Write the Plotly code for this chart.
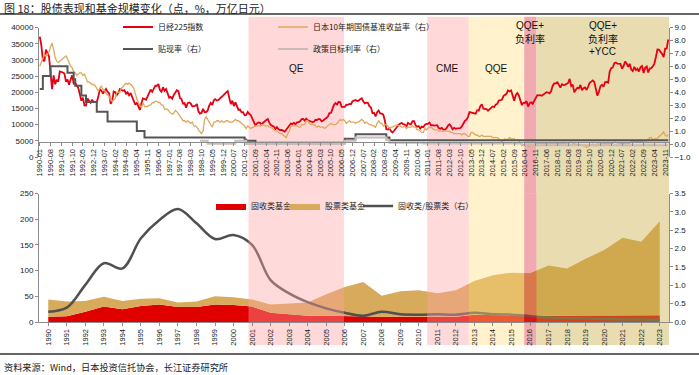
import plotly.graph_objects as go

W, H = 699, 375
def px_x(x): return x / W
def px_y(y): return 1 - y / H

NUM = "Liberation Sans, Arial, Noto Sans CJK SC, sans-serif"
CJK = "Noto Sans CJK SC, Liberation Sans, sans-serif"

# ---------------- top chart data (monthly, 1990-01 .. 2024-01) ----------------
months = [f"{y}-{m:02d}" for y in range(1990, 2025) for m in range(1, 13)][:409]

nikkei = [
    37189, 34591, 29980, 29584, 33131, 31940, 31036, 25978, 20983, 25194, 22454, 23848,
    23293, 26409, 26292, 26111, 25790, 23291, 23900, 22335, 23916, 25222, 22687, 22983,
    22023, 21338, 19345, 17390, 18347, 15951, 15910, 18061, 17399, 16767, 17683, 16924,
    17023, 16953, 18591, 20919, 20552, 19590, 20380, 21027, 20105, 19703, 16407, 17417,
    20229, 19997, 19111, 19725, 20974, 20643, 20462, 20628, 19563, 19989, 19076, 19723,
    18650, 17053, 16140, 16807, 15437, 14517, 16678, 18117, 17913, 17655, 18744, 19868,
    20813, 20125, 21407, 22041, 21956, 22531, 20693, 20167, 21556, 20466, 21020, 19361,
    18330, 18557, 18003, 19151, 20069, 20605, 20331, 18229, 17888, 16459, 16632, 15259,
    16628, 16831, 16527, 15641, 15671, 15830, 16379, 14108, 13406, 13564, 14883, 13842,
    13859, 14367, 15837, 16701, 16112, 17530, 17862, 17437, 17605, 17942, 18558, 18934,
    19540, 19960, 20337, 17974, 16332, 17411, 15727, 16861, 15747, 14539, 14649, 13785,
    13843, 12883, 12999, 13934, 13262, 12969, 11860, 10713, 9775, 10366, 10697, 10543,
    9997, 10588, 11024, 11492, 11764, 10621, 9877, 9619, 9383, 8640, 9216, 8579,
    8340, 8363, 7973, 7831, 8425, 9083, 9563, 10344, 10219, 10560, 10101, 10677,
    10784, 11042, 11715, 11762, 11236, 11858, 11326, 11082, 10824, 10771, 10899, 11489,
    11388, 11741, 11668, 11009, 11277, 11584, 11900, 12414, 13574, 13607, 14872, 16111,
    16650, 16205, 17060, 16906, 15467, 15505, 15457, 16141, 16128, 16399, 16274, 17226,
    17383, 17604, 17288, 17400, 17876, 18138, 17249, 16569, 16786, 16738, 15681, 15308,
    13592, 13603, 12526, 13850, 14339, 13481, 13377, 13073, 11260, 8577, 8512, 8860,
    7994, 7568, 8110, 8828, 9523, 9958, 10357, 10493, 10133, 10035, 9345, 10546,
    10198, 10126, 11090, 11057, 9769, 9383, 9537, 8824, 9369, 9202, 9937, 10229,
    10238, 10624, 9755, 9850, 9694, 9816, 9833, 8955, 8700, 8988, 8435, 8455,
    8803, 9723, 10084, 9521, 8543, 9007, 8695, 8840, 8870, 8928, 9446, 10395,
    11139, 11559, 12398, 13861, 13775, 13677, 13668, 13389, 14456, 14328, 15662, 16291,
    14915, 14841, 14828, 14304, 14632, 15162, 15621, 15425, 16174, 16414, 17460, 17451,
    17674, 18798, 19207, 19520, 20563, 20236, 20585, 18890, 17388, 19083, 19747, 19034,
    17518, 16027, 16759, 16666, 17235, 15576, 16569, 16887, 16450, 17425, 18308, 19114,
    19041, 19119, 18909, 19197, 19651, 20033, 19925, 19646, 20356, 22012, 22725, 22765,
    23098, 22068, 21454, 22468, 22202, 22305, 22554, 22865, 24120, 21920, 22351, 20015,
    20773, 21385, 21206, 22259, 20601, 21276, 21522, 20704, 21756, 22927, 23294, 23657,
    23205, 21143, 18917, 20194, 21878, 22288, 21710, 23140, 23185, 22977, 26434, 27444,
    27663, 28966, 29179, 28813, 28860, 28792, 27284, 28090, 29453, 28893, 27822, 28792,
    27002, 26527, 27821, 26848, 27280, 26393, 27802, 28092, 25937, 27587, 27969, 26095,
    27327, 27446, 28041, 28856, 30888, 33189, 33172, 32619, 31858, 30859, 33487, 33464,
    36287,
]

jgb10y = [
    6.0, 6.3, 6.7, 6.9, 6.8, 7.0, 7.1, 7.5, 7.8, 7.3, 6.7, 6.4,
    6.3, 6.4, 6.5, 6.6, 6.7, 6.8, 6.6, 6.2, 6.0, 5.9, 5.6, 5.5,
    5.3, 5.4, 5.5, 5.5, 5.3, 5.4, 5.1, 4.8, 4.8, 4.7, 4.6, 4.6,
    4.5, 4.3, 4.1, 4.3, 4.5, 4.2, 4.2, 3.9, 3.8, 3.7, 3.4, 3.3,
    3.4, 3.5, 4.0, 4.0, 4.0, 4.3, 4.4, 4.6, 4.7, 4.6, 4.7, 4.6,
    4.5, 4.3, 3.8, 3.5, 3.2, 3.0, 2.8, 3.2, 2.9, 2.9, 2.9, 3.0,
    3.0, 3.2, 3.2, 3.3, 3.3, 3.2, 3.2, 3.0, 3.0, 2.7, 2.7, 2.7,
    2.5, 2.4, 2.3, 2.4, 2.6, 2.5, 2.3, 2.1, 2.0, 1.8, 1.8, 1.7,
    1.8, 1.7, 1.6, 1.7, 1.4, 1.4, 1.3, 1.1, 0.9, 0.8, 1.0, 1.9,
    2.1, 1.9, 1.7, 1.5, 1.3, 1.7, 1.7, 1.8, 1.8, 1.7, 1.8, 1.7,
    1.7, 1.8, 1.8, 1.7, 1.7, 1.7, 1.8, 1.9, 1.8, 1.8, 1.7, 1.6,
    1.5, 1.4, 1.2, 1.4, 1.3, 1.2, 1.3, 1.3, 1.4, 1.4, 1.4, 1.4,
    1.5, 1.5, 1.4, 1.4, 1.4, 1.3, 1.3, 1.2, 1.1, 1.0, 1.0, 0.9,
    0.8, 0.8, 0.7, 0.6, 0.5, 0.8, 1.0, 1.4, 1.4, 1.4, 1.4, 1.4,
    1.3, 1.3, 1.5, 1.5, 1.5, 1.8, 1.8, 1.6, 1.5, 1.5, 1.5, 1.4,
    1.3, 1.4, 1.3, 1.3, 1.3, 1.2, 1.3, 1.4, 1.5, 1.6, 1.5, 1.5,
    1.5, 1.6, 1.8, 1.9, 1.8, 1.9, 1.8, 1.6, 1.7, 1.8, 1.7, 1.7,
    1.7, 1.6, 1.7, 1.7, 1.8, 1.9, 1.8, 1.6, 1.7, 1.6, 1.5, 1.5,
    1.4, 1.4, 1.3, 1.6, 1.8, 1.6, 1.6, 1.4, 1.5, 1.5, 1.4, 1.2,
    1.3, 1.3, 1.4, 1.4, 1.5, 1.4, 1.4, 1.3, 1.3, 1.4, 1.2, 1.3,
    1.3, 1.3, 1.4, 1.3, 1.3, 1.1, 1.1, 1.0, 0.9, 0.9, 1.2, 1.1,
    1.2, 1.3, 1.3, 1.2, 1.1, 1.1, 1.1, 1.0, 1.0, 1.0, 1.0, 1.0,
    1.0, 1.0, 1.0, 0.9, 0.9, 0.8, 0.8, 0.8, 0.8, 0.8, 0.7, 0.8,
    0.8, 0.7, 0.6, 0.6, 0.9, 0.9, 0.8, 0.7, 0.7, 0.6, 0.6, 0.7,
    0.6, 0.6, 0.6, 0.6, 0.6, 0.6, 0.5, 0.5, 0.5, 0.5, 0.4, 0.3,
    0.2, 0.3, 0.4, 0.3, 0.4, 0.5, 0.4, 0.4, 0.4, 0.3, 0.3, 0.3,
    0.1, -0.1, -0.05, -0.1, -0.1, -0.2, -0.2, -0.07, -0.09, -0.05, 0.02, 0.05,
    0.08, 0.06, 0.07, 0.02, 0.04, 0.08, 0.08, 0.01, 0.06, 0.07, 0.04, 0.05,
    0.08, 0.05, 0.04, 0.05, 0.04, 0.03, 0.05, 0.11, 0.13, 0.13, 0.09, 0.0,
    0.0, -0.04, -0.08, -0.05, -0.09, -0.16, -0.16, -0.27, -0.2, -0.14, -0.07, -0.01,
    -0.06, -0.15, 0.02, -0.03, 0.0, 0.03, 0.02, 0.05, 0.02, 0.04, 0.03, 0.02,
    0.05, 0.15, 0.09, 0.09, 0.08, 0.05, 0.02, 0.02, 0.07, 0.1, 0.06, 0.07,
    0.18, 0.2, 0.22, 0.23, 0.24, 0.23, 0.18, 0.22, 0.25, 0.25, 0.25, 0.42,
    0.5, 0.5, 0.35, 0.39, 0.43, 0.4, 0.6, 0.65, 0.77, 0.95, 0.67, 0.61,
    0.73,
]

# step series: month at which the rate changes, and the new level
discount_dates = ["1990-01", "1990-03", "1990-08", "1991-07", "1991-11", "1991-12",
                  "1992-04", "1992-07", "1993-02", "1993-09", "1995-04", "1995-09",
                  "2001-02", "2001-03", "2001-09", "2006-07", "2007-02", "2008-10",
                  "2008-12", "2024-01"]
discount_vals = [4.25, 5.25, 6.0, 5.5, 5.0, 4.5, 3.75, 3.25, 2.5, 1.75, 1.0, 0.5,
                 0.35, 0.25, 0.1, 0.4, 0.75, 0.5, 0.3, 0.3]

policy_dates = ["1998-09", "1999-02", "2000-08", "2001-03", "2006-07", "2007-02",
                "2008-10", "2008-12", "2010-10", "2016-02", "2024-01"]
policy_vals = [0.25, 0.02, 0.25, 0.0, 0.25, 0.5, 0.3, 0.1, 0.05, -0.1, -0.1]

# policy periods (shaded)
period_lines = [["QE"], ["CME"], ["QQE"], ["QQE+", "负利率"], ["QQE+", "负利率", "+YCC"]]
period_start = ["2001-05", "2011-01", "2013-04", "2016-04", "2016-12"]
period_end = ["2006-07", "2013-04", "2016-04", "2016-12", "2024-03"]

# ---------------- bottom chart data (annual) ----------------
years = [str(y) for y in range(1990, 2024)]
fixed_income = [10, 11, 20, 30, 25, 31, 34, 29, 29, 34, 33, 30, 18, 15, 12, 12, 11,
                10, 10, 10, 10, 10, 10, 14, 13, 13, 12, 12, 12, 12, 13, 13, 13, 13]
equity = [34, 29, 21, 19, 16, 14, 12, 9, 11, 16, 15, 14, 16, 21, 26, 42, 57,
          68, 41, 50, 52, 46, 52, 66, 78, 83, 83, 98, 92, 111, 127, 151, 143, 183]
ratio = [0.28, 0.39, 1.01, 1.60, 1.46, 2.28, 2.78, 3.08, 2.69, 2.26, 2.37, 2.10, 1.14,
         0.78, 0.54, 0.37, 0.25, 0.17, 0.28, 0.21, 0.20, 0.21, 0.20, 0.25, 0.21, 0.20,
         0.16, 0.12, 0.10, 0.10, 0.08, 0.07, 0.07, 0.06]

# ---------------- styles ----------------
RED = "#E60012"
TAN = "#DDA95C"
DARK = "#555555"
LIGHT = "#C9BBBB"
AXIS = "#8C8C8C"
AREA_RED = "#E00000"
AREA_TAN = "#D8AA5C"

def midx(s):
    y, m = s.split("-")
    return (int(y) - 1990) * 12 + int(m) - 1

fig = go.Figure()

fig.add_trace(go.Scatter(x=months, y=nikkei, name="日经225指数", mode="lines",
                         line=dict(color=RED, width=1.8), xaxis="x", yaxis="y",
                         legend="legend"))
fig.add_trace(go.Scatter(x=months, y=jgb10y, name="日本10年期国债基准收益率（右）",
                         mode="lines", line=dict(color=TAN, width=1.3),
                         xaxis="x", yaxis="y2", legend="legend2"))
fig.add_trace(go.Scatter(x=discount_dates, y=discount_vals, name="贴现率（右）",
                         mode="lines", line=dict(color=DARK, width=2, shape="hv"),
                         xaxis="x", yaxis="y2", legend="legend3"))
fig.add_trace(go.Scatter(x=policy_dates, y=policy_vals, name="政策目标利率（右）",
                         mode="lines", line=dict(color=LIGHT, width=2, shape="hv"),
                         xaxis="x", yaxis="y2", legend="legend4"))

fig.add_trace(go.Scatter(x=years, y=fixed_income, name="固收类基金", mode="lines",
                         stackgroup="one", line=dict(width=0, color=AREA_RED),
                         fillcolor=AREA_RED, xaxis="x2", yaxis="y3", legend="legend5"))
fig.add_trace(go.Scatter(x=years, y=equity, name="股票类基金", mode="lines",
                         stackgroup="one", line=dict(width=0, color=AREA_TAN),
                         fillcolor=AREA_TAN, xaxis="x2", yaxis="y3", legend="legend6"))
fig.add_trace(go.Scatter(x=years, y=ratio, name="固收类/股票类（右）", mode="lines",
                         line=dict(color="#505050", width=2.5, shape="spline", smoothing=1),
                         xaxis="x2", yaxis="y4", legend="legend7"))

# ---------------- shading ----------------
band_fill = ["#FFD9D9", "#FFD9D9", "#FFF2CC", "#F1AAAF", "#E8DCB0"]
band_over = ["rgb(255,163,163)", "rgb(255,163,163)", "rgb(255,223,128)",
             "rgb(220,43,55)", "rgb(198,168,58)"]
shapes = []
top_y = px_y(16.7)
bot_plot_top = px_y(193.5)
bot_plot_bot = px_y(322)
bot_y = px_y(345)
n_m = len(months)
for s, e, fc, oc in zip(period_start, period_end, band_fill, band_over):
    x0 = midx(s) - 0.5
    x1 = min(midx(e) - 0.5, n_m - 0.5)
    shapes.append(dict(type="rect", xref="x", yref="paper", x0=x0, x1=x1,
                       y0=bot_plot_top, y1=top_y, fillcolor=fc, line=dict(width=0),
                       layer="below"))
    shapes.append(dict(type="rect", xref="x", yref="paper", x0=x0, x1=x1,
                       y0=bot_y, y1=bot_plot_bot, fillcolor=fc, line=dict(width=0),
                       layer="below"))
    shapes.append(dict(type="rect", xref="x", yref="paper", x0=x0, x1=x1,
                       y0=bot_plot_bot, y1=bot_plot_top, fillcolor=oc, opacity=0.4,
                       line=dict(width=0), layer="above"))

# rules under title and above source
shapes.append(dict(type="line", xref="paper", yref="paper", x0=0, x1=1,
                   y0=px_y(14), y1=px_y(14), line=dict(color="#333333", width=1.5)))
shapes.append(dict(type="line", xref="paper", yref="paper", x0=0, x1=1,
                   y0=px_y(354), y1=px_y(354), line=dict(color="#333333", width=1.5)))

annotations = []
annotations.append(dict(text="图 18：股债表现和基金规模变化（点，%，万亿日元）",
                        xref="paper", yref="paper", x=px_x(2), y=px_y(7.5),
                        xanchor="left", yanchor="middle", showarrow=False,
                        font=dict(family=CJK, size=11, color="#222222")))
annotations.append(dict(text="资料来源：Wind，日本投资信托协会，长江证券研究所",
                        xref="paper", yref="paper", x=px_x(2), y=px_y(366.5),
                        xanchor="left", yanchor="middle", showarrow=False,
                        font=dict(family=CJK, size=9.2, color="#222222")))
line_y = {1: [69], 2: [25.5, 38.5], 3: [25.5, 38.5, 51.5]}
for lines, s, e in zip(period_lines, period_start, period_end):
    xc = (midx(s) + min(midx(e), n_m)) / 2 - 0.5
    for txt, ly in zip(lines, line_y[len(lines)]):
        annotations.append(dict(text=txt, xref="x", yref="paper", x=xc, y=px_y(ly),
                                xanchor="center", yanchor="middle", showarrow=False,
                                font=dict(family=NUM, size=10, color="#111111")))

tick_months = months[::7]

axis_common = dict(showline=True, linecolor=AXIS, linewidth=1, ticks="outside",
                   ticklen=3, tickcolor=AXIS, showgrid=False, zeroline=False,
                   automargin=False,
                   tickfont=dict(family=NUM, size=8, color="#222222"))

leg_common = dict(bgcolor="rgba(0,0,0,0)", borderwidth=0,
                  font=dict(family=CJK, size=8, color="#222222"),
                  xanchor="left", yanchor="middle", itemwidth=30,
                  traceorder="normal")

fig.update_layout(
    width=W, height=H, autosize=False,
    margin=dict(l=0, r=0, t=0, b=0, pad=0, autoexpand=False),
    paper_bgcolor="white", plot_bgcolor="rgba(0,0,0,0)",
    shapes=shapes, annotations=annotations,
    xaxis=dict(domain=[px_x(39), px_x(669)], anchor="free", position=px_y(142),
               type="category", categoryorder="array", categoryarray=months,
               range=[-0.5, n_m - 0.5], tickmode="array", tickvals=tick_months,
               ticktext=tick_months, tickangle=-90, **{**axis_common,
               "tickfont": dict(family=NUM, size=7.5, color="#222222")}),
    yaxis=dict(domain=[px_y(157), px_y(27.5)], anchor="x", range=[0, 40000],
               dtick=5000, tickformat="d", **axis_common),
    yaxis2=dict(overlaying="y", side="right", anchor="x", range=[-1, 9], dtick=1,
                tickformat=".1f", **axis_common),
    xaxis2=dict(domain=[px_x(39), px_x(669)], anchor="y3", type="category",
                range=[-0.5, len(years) - 0.5], tickangle=-90, **{**axis_common,
                "tickfont": dict(family=NUM, size=7.5, color="#222222")}),
    yaxis3=dict(domain=[px_y(322), px_y(193.5)], anchor="x2", range=[0, 250],
                dtick=50, **axis_common),
    yaxis4=dict(overlaying="y3", side="right", anchor="x2", range=[0, 3.5],
                dtick=0.5, tickformat=".1f", **axis_common),
    showlegend=True,
    legend=dict(x=px_x(118), y=px_y(27), **leg_common),
    legend2=dict(x=px_x(273), y=px_y(27), **leg_common),
    legend3=dict(x=px_x(118), y=px_y(49), **leg_common),
    legend4=dict(x=px_x(273), y=px_y(49), **leg_common),
    legend5=dict(x=px_x(211), y=px_y(206), **leg_common),
    legend6=dict(x=px_x(285), y=px_y(206), **leg_common),
    legend7=dict(x=px_x(358), y=px_y(206), **leg_common),
)

fig.write_html("out.html", config={"displayModeBar": False},
               post_script="document.body.style.margin='0px';")
